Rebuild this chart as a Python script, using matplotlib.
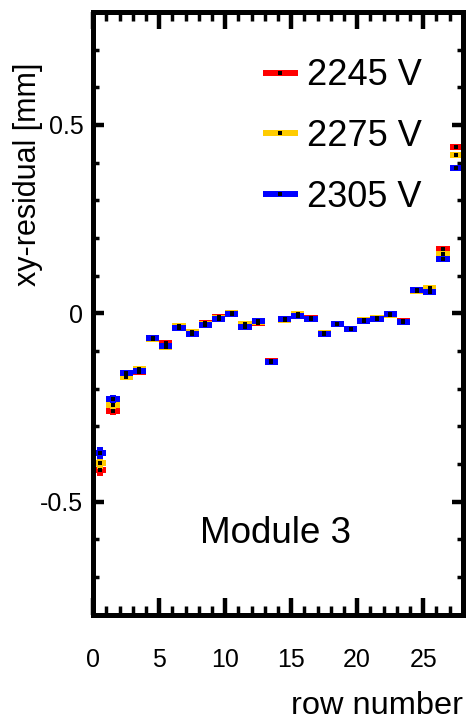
import numpy as np
import matplotlib.pyplot as plt
from matplotlib.lines import Line2D
from matplotlib.ticker import MultipleLocator

plt.rcParams['font.family'] = ['Liberation Sans', 'DejaVu Sans']

# row centres and residuals per high-voltage setting
rows = np.arange(28) + 0.5
res_2245 = [-0.416, -0.258, -0.163, -0.155, -0.066, -0.078, -0.037, -0.049,
            -0.026, -0.009, 0.000, -0.031, -0.025, -0.127, -0.015, -0.006,
            -0.013, -0.054, -0.027, -0.041, -0.020, -0.014, -0.002, -0.021,
            0.060, 0.061, 0.170, 0.441]
res_2275 = [-0.398, -0.244, -0.170, -0.148, -0.068, -0.090, -0.034, -0.050,
            -0.029, -0.012, 0.000, -0.027, -0.022, -0.128, -0.018, -0.003,
            -0.014, -0.052, -0.027, -0.042, -0.017, -0.013, -0.005, -0.022,
            0.058, 0.066, 0.157, 0.420]
res_2305 = [-0.370, -0.228, -0.158, -0.152, -0.066, -0.087, -0.038, -0.055,
            -0.031, -0.014, -0.001, -0.035, -0.021, -0.128, -0.014, -0.007,
            -0.014, -0.056, -0.028, -0.042, -0.021, -0.014, -0.001, -0.022,
            0.061, 0.057, 0.144, 0.385]
yerr = [0.016, 0.011] + [0.004] * 26

series = [('2245 V', res_2245, '#ff0000'),
          ('2275 V', res_2275, '#ffcc00'),
          ('2305 V', res_2305, '#0000ff')]

fig = plt.figure(figsize=(4.66, 7.21), dpi=100)
ax = fig.add_axes([0.2, 0.1474, 0.793, 0.836])

lw = 4.3
handles = []
for label, vals, col in series:
    cont = ax.errorbar(rows, vals, xerr=0.5, yerr=yerr, fmt='s', color=col,
                       ecolor=col, elinewidth=lw, capsize=0, ms=2.3,
                       mfc='k', mec='k', mew=0)
    for lc in cont[2]:
        lc.set_capstyle('butt')
    handles.append(Line2D([], [], color=col, lw=lw, marker='s', ms=2.3,
                          mfc='k', mec='k', mew=0, solid_capstyle='butt'))

ax.set_xlim(0, 28)
ax.set_ylim(-0.8, 0.8)
ax.xaxis.set_major_locator(MultipleLocator(5))
ax.xaxis.set_minor_locator(MultipleLocator(1))
ax.yaxis.set_minor_locator(MultipleLocator(0.1))
ax.set_yticks([-0.5, 0, 0.5])
ax.set_yticklabels(['-0.5', '0', '0.5'])

for s in ax.spines.values():
    s.set_linewidth(3.6)
ax.tick_params(which='both', direction='in', top=True, right=True,
               labelsize=18, colors='k')
ax.tick_params(axis='x', which='major', length=12.5, width=3.2, pad=24)
ax.tick_params(axis='x', which='minor', length=6.3, width=2.5)
ax.tick_params(axis='y', which='major', length=8, width=3.2, pad=7)
ax.tick_params(axis='y', which='minor', length=4.3, width=2.5)

ax.set_xlabel('row number', fontsize=23.4, ha='right')
ax.xaxis.set_label_coords(1.0, -0.126)
ax.set_ylabel('xy-residual [mm]', fontsize=22, ha='center')
ax.yaxis.set_label_coords(-0.136, 0.731)

ax.text(8.1, -0.61, 'Module 3', fontsize=26.5, va='baseline')

ax.legend(handles, [s[0] for s in series], loc='upper left',
          bbox_to_anchor=(0.459, 0.923), frameon=False, fontsize=26,
          handlelength=0.97, handletextpad=0.25, labelspacing=0.71,
          borderpad=0, borderaxespad=0)

fig.savefig('out.png', dpi=100)
